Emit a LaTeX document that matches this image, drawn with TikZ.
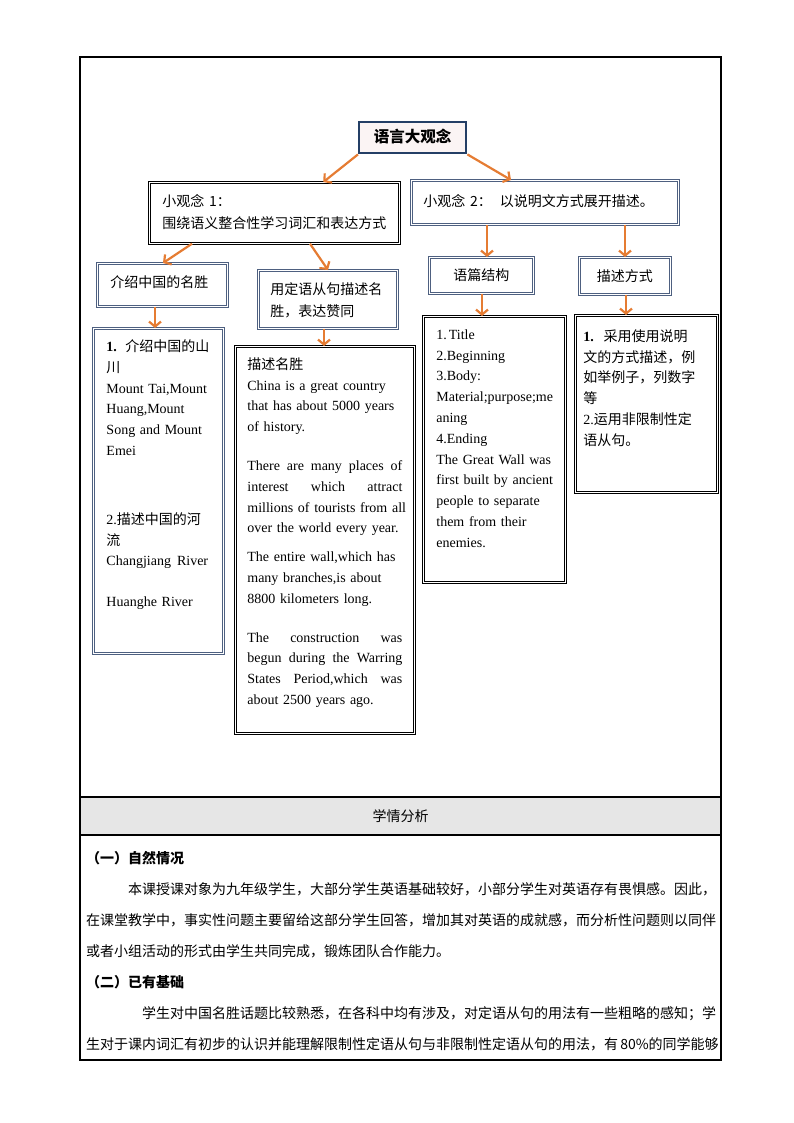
\documentclass[tikz,border=0pt]{standalone}
\usepackage{fontspec}
\setmainfont{Liberation Serif}
\newfontfamily\cjk{Noto Sans CJK SC}
\usetikzlibrary{arrows.meta}
\definecolor{arrowor}{HTML}{E57C33}
\definecolor{navy}{HTML}{243F66}
\definecolor{bgray}{HTML}{4E6080}
\definecolor{hdrgray}{HTML}{E6E6E6}
\definecolor{topfill}{HTML}{FBF4F4}
\newcommand\bbox[9]{%
  \pgfmathsetmacro\bbtw{#5-#3-2*#7}%
  \pgfmathsetmacro\bbtd{#6-#4-#8}%
  \node[#1, anchor=north west, inner xsep=#7pt, inner ysep=0pt,
        text width=\bbtw pt, text height=#8pt, text depth=\bbtd pt] (#2) at (#3,#4) {#9};}
\newcommand\oneln[1]{\mbox{#1}}
\newcommand\jline[2]{\leavevmode\hbox to #1{#2}}
\ExplSyntaxOn
\NewDocumentCommand\spreadline{mm}{
  \hbox_to_wd:nn {#1}
    {
      \bool_set_false:N \l_tmpa_bool
      \tl_map_inline:nn {#2}
        { \bool_if:NT \l_tmpa_bool { \hfil } \bool_set_true:N \l_tmpa_bool ##1 }
    }
}
\ExplSyntaxOff
\begin{document}
\begin{tikzpicture}[x=1pt,y=-1pt,
  dbk/.style={draw=black, double=white, double distance=1.6pt, line width=0.75pt, fill=white},
  dbl/.style={draw=bgray, double=white, double distance=1.6pt, line width=0.95pt, fill=white},
  topst/.style={draw=navy, line width=2.4pt, fill=topfill, font=\cjk\bfseries\fontsize{15.5}{18}\selectfont},
  cn/.style={font=\cjk\fontsize{14}{22}\selectfont},
  en/.style={font=\fontsize{14}{20.8}\selectfont},
  body/.style={font=\cjk\fontsize{14}{20}\selectfont, inner sep=0pt, anchor=base west},
  arr/.style={draw=arrowor, line width=2.2pt, -{Straight Barb[length=5pt,width=12pt]}}]
\useasboundingbox (0,0) rectangle (794,1123);
% table frame
\fill[hdrgray] (80,797) rectangle (721,835);
\draw[line width=1.2pt] (80,57) rectangle (721,1060);
\draw[line width=1.2pt] (80,797) -- (721,797) (80,835) -- (721,835);

% diagram boxes
\bbox{topst, align=center}{top}{358}{121}{465}{152}{4}{20.5}{语言大观念}
\bbox{dbk, cn, align=left}{sub1}{149}{182}{399}{243}{13}{24}{小观念 1：\\围绕语义整合性学习词汇和表达方式}
\bbox{dbl, cn, align=left}{sub2}{411}{180}{678}{224}{12}{26}{小观念 2：\hspace{8pt}以说明文方式展开描述。}
\bbox{dbl, cn, align=left}{k1}{97}{263}{227}{306}{13}{24}{介绍中国的名胜}
\bbox{dbl, cn, align=left}{k2}{258}{270}{397}{328}{12}{24}{用定语从句描述名\\胜，表达赞同}
\bbox{dbl, cn, align=center}{k3}{429}{257}{533}{293}{4}{23.5}{语篇结构}
\bbox{dbl, cn, align=center}{k4}{579}{257}{670}{294}{4}{24}{描述方式}

\bbox{dbl, en, align=left}{b1}{93}{328}{223}{653}{13}{23}{%
\oneln{{\bfseries 1.}\hspace{0.6em}{\cjk 介绍中国的山}}\\
{\cjk 川}\\
\oneln{Mount Tai,Mount}\\
\oneln{Huang,Mount}\\
\oneln{Song and Mount}\\
Emei\\[48pt]
\oneln{2.{\cjk 描述中国的河}}\\
{\cjk 流}\\
\oneln{Changjiang\hspace{6pt}River}\\[20pt]
\oneln{Huanghe River}}

\bbox{dbk, en, align=left}{b2}{235}{346}{414}{733}{12}{23}{%
{\cjk 描述名胜}\\
\oneln{China is a great country}\\
\oneln{that has about 5000 years}\\
\oneln{of history.}\\[18pt]
\jline{155pt}{There\hfill are\hfill many\hfill places\hfill of}\\
\jline{155pt}{interest\hfill which\hfill attract}\\
\oneln{millions of tourists from all}\\
\oneln{over the world every year.}\\[8pt]
\oneln{The entire wall,which has}\\
\oneln{many branches,is about}\\
\oneln{8800 kilometers long.}\\[18pt]
\jline{155pt}{The\hfill construction\hfill was}\\
\jline{155pt}{begun\hfill during\hfill the\hfill Warring}\\
\jline{155pt}{States\hfill Period,which\hfill was}\\
\oneln{about 2500 years ago.}}

\bbox{dbk, en, align=left}{b3}{423}{316}{565}{582}{13}{23}{%
\oneln{1.\hspace{2pt}Title}\\
\oneln{2.Beginning}\\
\oneln{3.Body:}\\
\oneln{Material;purpose;me}\\
\oneln{aning}\\
\oneln{4.Ending}\\
\oneln{The Great Wall was}\\
\oneln{first built by ancient}\\
\oneln{people to separate}\\
\oneln{them from their}\\
\oneln{enemies.}}

\bbox{dbk, en, align=left}{b4}{575}{315}{717}{492}{8}{26}{%
\oneln{{\bfseries 1.}\hspace{0.7em}{\cjk 采用使用说明}}\\
{\cjk 文的方式描述，例}\\
{\cjk 如举例子，列数字}\\
{\cjk 等}\\
\oneln{2.{\cjk 运用非限制性定}}\\
{\cjk 语从句。}}

% connectors
\draw[arr] (top.south west) -- ([xshift=49pt]sub1.north);
\draw[arr] (top.south east) -- ([xshift=100pt]sub2.north west);
\draw[arr] ([xshift=43pt]sub1.south west) -- ([xshift=66pt]k1.north west);
\draw[arr] ([xshift=161pt]sub1.south west) -- ([xshift=70pt]k2.north west);
\draw[arr] ([xshift=76pt]sub2.south west) -- ([xshift=58pt]k3.north west);
\draw[arr] ([xshift=214pt]sub2.south west) -- ([xshift=46pt]k4.north west);
\draw[arr] ([xshift=58pt]k1.south west) -- ([xshift=62pt]b1.north west);
\draw[arr] ([xshift=66pt]k2.south west) -- ([xshift=89pt]b2.north west);
\draw[arr] ([xshift=53pt]k3.south west) -- ([xshift=59pt]b3.north west);
\draw[arr] ([xshift=47pt]k4.south west) -- ([xshift=51pt]b4.north west);

% lower table text
\node[body, anchor=base] (hdr) at (400.5,821) {学情分析};
\node[body] (h1) at (86,863.5) {\bfseries （一）自然情况};
\node[body] (p1) at (128,894.5) {\spreadline{584pt}{本课授课对象为九年级学生，大部分学生英语基础较好，小部分学生对英语存有畏惧感。因此，}};
\node[body] (p2) at (86,925.5) {\spreadline{626pt}{在课堂教学中，事实性问题主要留给这部分学生回答，增加其对英语的成就感，而分析性问题则以同伴}};
\node[body] (p3) at (86,956.5) {或者小组活动的形式由学生共同完成，锻炼团队合作能力。};
\node[body] (h2) at (86,987.5) {\bfseries （二）已有基础};
\node[body] (p4) at (142,1018.5) {\spreadline{570pt}{学生对中国名胜话题比较熟悉，在各科中均有涉及，对定语从句的用法有一些粗略的感知；学}};
\node[body] (p5) at (86,1049.5) {\spreadline{626pt}{生对于课内词汇有初步的认识并能理解限制性定语从句与非限制性定语从句的用法，有{ 80\%}的同学能够}};
\end{tikzpicture}
\end{document}
